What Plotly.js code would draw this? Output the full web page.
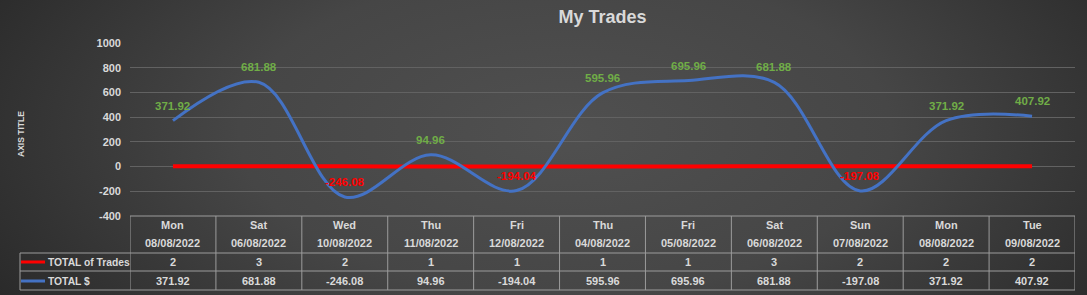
<!DOCTYPE html>
<html>
<head>
<meta charset="utf-8">
<script src="https://cdn.plot.ly/plotly-3.0.1.min.js"></script>
<style>
  html, body { margin: 0; padding: 0; background: #2b2b2b; }
  #chart {
    width: 1087px; height: 295px;
    background: radial-gradient(ellipse 60% 110% at 52% 45%, #505050 0%, #464646 50%, #2a2a2a 100%);
  }
</style>
</head>
<body>
<div id="chart"></div>
<script>
// ---- Data ----
const categoryDays  = ["Mon", "Sat", "Wed", "Thu", "Fri", "Thu", "Fri", "Sat", "Sun", "Mon", "Tue"];
const categoryDates = ["08/08/2022", "06/08/2022", "10/08/2022", "11/08/2022", "12/08/2022", "04/08/2022",
                       "05/08/2022", "06/08/2022", "07/08/2022", "08/08/2022", "09/08/2022"];
const totalTrades   = [2, 3, 2, 1, 1, 1, 1, 3, 2, 2, 2];
const totalDollars  = [371.92, 681.88, -246.08, 94.96, -194.04, 595.96, 695.96, 681.88, -197.08, 371.92, 407.92];
const seriesNames   = ["TOTAL of Trades", "TOTAL $"];
const yTicks        = [-400, -200, 0, 200, 400, 600, 800, 1000];

// ---- Geometry / style ----
const W = 1087, H = 295, L = 130, R = 12, T = 43, B = 79;
const plotW = W - L - R, plotH = H - T - B;
const py = p => (H - B - p) / plotH;   // pixel y -> paper y
const px = p => (p - L) / plotW;        // pixel x -> paper x
const FONT = "Liberation Sans, Arial, sans-serif";
const TXT = "#d9d9d9";
const BORDER = "#9c9c9c";
const RED = "#ff0000", BLUE = "#4472c4", GREEN = "#70ad47";

const idx = categoryDays.map((_, i) => i);

const traces = [
  { x: idx, y: totalTrades, type: "scatter", mode: "lines", name: seriesNames[0],
    line: { color: RED, width: 4, shape: "spline" }, hoverinfo: "skip" },
  { x: idx, y: totalDollars, type: "scatter", mode: "lines", name: seriesNames[1],
    line: { color: BLUE, width: 3, shape: "spline", smoothing: 1 }, hoverinfo: "skip" }
];

const shapes = [];
const line = (x0, y0, x1, y1, xref, color, width) => shapes.push({
  type: "line", xref: xref, yref: "paper", x0, y0, x1, y1, line: { color, width }
});
// horizontal borders of the data table
line(0, py(216), 1, py(216), "paper", BORDER, 1);
[253, 271, 290].forEach(p => line(px(20), py(p), 1, py(p), "paper", BORDER, 1));
// vertical borders
for (let i = 0; i <= categoryDays.length; i++) {
  shapes.push({ type: "line", xref: "x", yref: "paper", x0: i - 0.5, x1: i - 0.5,
    y0: py(216), y1: py(290), line: { color: BORDER, width: 1 } });
}
line(px(20), py(253), px(20), py(290), "paper", BORDER, 1);
// legend keys
line(px(21), py(262), px(45), py(262), "paper", RED, 3);
line(px(21), py(281), px(45), py(281), "paper", BLUE, 3);

const annotations = [];
const ann = (o) => annotations.push(Object.assign({ showarrow: false,
  font: { family: FONT, size: 11, color: TXT, weight: "bold" } }, o));

idx.forEach(i => {
  ann({ xref: "x", yref: "paper", x: i, y: py(225), text: categoryDays[i], yanchor: "middle" });
  ann({ xref: "x", yref: "paper", x: i, y: py(243), text: categoryDates[i], yanchor: "middle" });
  ann({ xref: "x", yref: "paper", x: i, y: py(262), text: String(totalTrades[i]), yanchor: "middle" });
  ann({ xref: "x", yref: "paper", x: i, y: py(281), text: totalDollars[i].toFixed(2), yanchor: "middle" });
  // data labels
  ann({ xref: "x", yref: "y", x: i, y: totalDollars[i], yshift: 15, yanchor: "middle",
        text: totalDollars[i].toFixed(2),
        font: { family: FONT, size: 11.5, weight: "bold", color: totalDollars[i] < 0 ? RED : GREEN } });
});
ann({ xref: "paper", yref: "paper", x: px(46), y: py(262), xanchor: "left", yanchor: "middle", text: seriesNames[0],
      font: { family: FONT, size: 10.3, weight: "bold", color: TXT } });
ann({ xref: "paper", yref: "paper", x: px(46), y: py(281), xanchor: "left", yanchor: "middle", text: seriesNames[1],
      font: { family: FONT, size: 10.3, weight: "bold", color: TXT } });
ann({ xref: "paper", yref: "paper", x: px(21), y: py(134), textangle: -90, xanchor: "center", yanchor: "middle",
      text: "AXIS TITLE", font: { family: FONT, size: 8.5, weight: "bold", color: TXT } });

const layout = {
  width: W, height: H,
  margin: { l: L, r: R, t: T, b: B },
  paper_bgcolor: "rgba(0,0,0,0)", plot_bgcolor: "rgba(0,0,0,0)",
  showlegend: false, hovermode: false,
  title: { text: "My Trades", x: 0.5, xref: "paper", xanchor: "center", y: 1 - 17 / H, yanchor: "middle",
           font: { family: FONT, size: 18, weight: "bold", color: TXT } },
  xaxis: { range: [-0.5, categoryDays.length - 0.5], showgrid: false, zeroline: false,
           showticklabels: false, showline: false, fixedrange: true },
  yaxis: { range: [-400, 1000], tickvals: yTicks, ticktext: yTicks.map(String),
           showgrid: true, gridcolor: "#626262", gridwidth: 1, zeroline: false, showline: false,
           ticks: "", ticklabelstandoff: 8,
           tickfont: { family: FONT, size: 11, weight: "bold", color: TXT }, fixedrange: true },
  shapes, annotations
};

Plotly.newPlot("chart", traces, layout, { staticPlot: true, displayModeBar: false });
</script>
</body>
</html>
